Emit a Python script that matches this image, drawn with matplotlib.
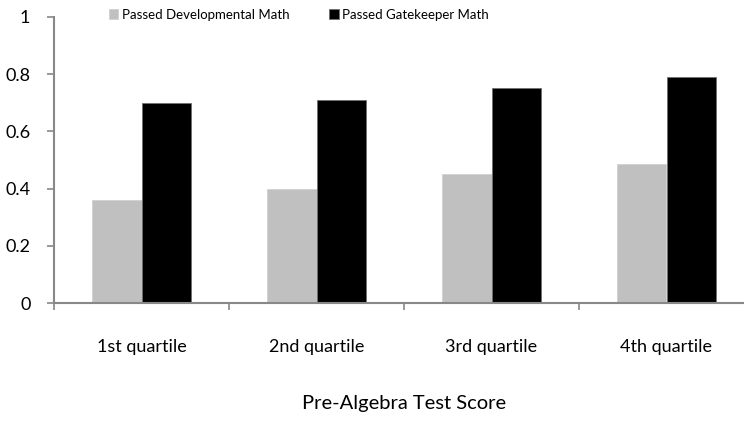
import matplotlib
matplotlib.use("Agg")
import matplotlib.pyplot as plt
import numpy as np

# data
quartiles = ["1st quartile", "2nd quartile", "3rd quartile", "4th quartile"]
passed_dev = [0.36, 0.40, 0.45, 0.485]
passed_gate = [0.70, 0.71, 0.75, 0.79]
y_ticks = [0, 0.2, 0.4, 0.6, 0.8, 1]
y_tick_labels = ["0", "0.2", "0.4", "0.6", "0.8", "1"]

plt.rcParams["font.family"] = ["Lato", "DejaVu Sans"]

fig = plt.figure(figsize=(7.44, 4.28), dpi=100)
ax = fig.add_axes([54 / 744, 125 / 428, 700 / 744, 286 / 428])

x = np.arange(len(quartiles))
w = 0.283
ax.bar(x - w / 2, passed_dev, w, color="#c0c0c0", edgecolor="#d0d0d0", linewidth=0.6,
       label="Passed Developmental Math")
ax.bar(x + w / 2, passed_gate, w, color="black", edgecolor="#707070", linewidth=0.6,
       label="Passed Gatekeeper Math")

ax.set_xlim(-0.5, 3.5)
ax.set_ylim(0, 1)
ax.set_yticks(y_ticks)
ax.set_yticklabels(y_tick_labels)

# category labels centred, tick marks on the boundaries
ax.set_xticks(x)
ax.set_xticklabels(quartiles)
ax.set_xticks(np.arange(-0.5, 3.6, 1), minor=True)
ax.tick_params(axis="x", which="major", length=0, pad=26, labelsize=13)
ax.tick_params(axis="x", which="minor", length=5, width=1.2, color="#888888", direction="out")
ax.tick_params(axis="y", length=5, width=1.2, color="#888888", direction="out", pad=12, labelsize=13)

for s in ["top", "right"]:
    ax.spines[s].set_visible(False)
for s in ["left", "bottom"]:
    ax.spines[s].set_color("#888888")
    ax.spines[s].set_linewidth(1.5)

ax.set_xlabel("Pre-Algebra Test Score", fontsize=14.5, labelpad=29)

ax.legend(loc="upper left", bbox_to_anchor=(0.061, 1.07), ncol=2, frameon=False,
          fontsize=9.5, handlelength=0.75, handleheight=0.75, handletextpad=0.25,
          columnspacing=3.0)

fig.savefig("out.png", dpi=100)
